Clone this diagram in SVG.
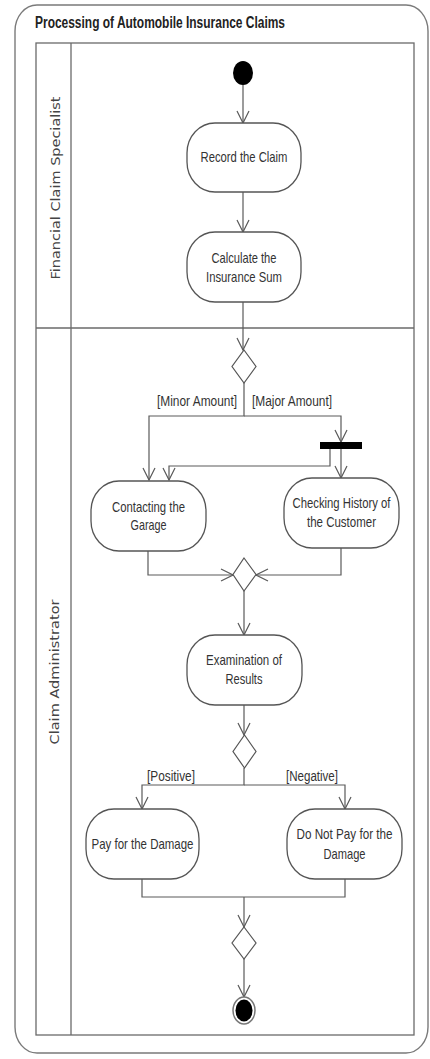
<svg xmlns="http://www.w3.org/2000/svg" width="430" height="1059" viewBox="0 0 430 1059">
<style>
.frame{fill:none;stroke:#7a7a7a;stroke-width:1.4}
.lane{fill:none;stroke:#6a6a6a;stroke-width:1.3}
.act{fill:#fff;stroke:#555;stroke-width:1.3}
.dec{fill:#fff;stroke:#555;stroke-width:1.2}
.con{fill:none;stroke:#5a5a5a;stroke-width:1.2}
.t{font-family:"Liberation Sans",Arial,sans-serif;font-size:15px;fill:#333;text-anchor:middle}
.g{font-family:"Liberation Sans",Arial,sans-serif;font-size:14px;fill:#333}
.ln{font-family:"DejaVu Sans",Verdana,sans-serif;font-size:13px;fill:#444;text-anchor:middle}
.title{font-family:"Liberation Sans",Arial,sans-serif;font-size:16px;font-weight:bold;fill:#222}
</style>
<defs>
<marker id="arr" markerUnits="userSpaceOnUse" markerWidth="14" markerHeight="14" viewBox="-13 -7 14 14" refX="0" refY="0" orient="auto">
<path d="M-12,-6 L0,0 L-12,6" fill="none" stroke="#5a5a5a" stroke-width="1.2"/>
</marker>
</defs>
<g id="frame">
<rect class="frame" x="15" y="5" width="413" height="1048" rx="22" ry="26"/>
<text class="title" x="35" y="28" textLength="250" lengthAdjust="spacingAndGlyphs">Processing of Automobile Insurance Claims</text>
</g>
<g id="lanes">
<rect class="lane" x="36" y="43" width="378" height="992"/>
<line class="lane" x1="71" y1="43" x2="71" y2="1035"/>
<line class="lane" x1="36" y1="328" x2="414" y2="328"/>
<text class="ln" transform="translate(60,188) rotate(-90)" textLength="183" lengthAdjust="spacingAndGlyphs">Financial Claim Specialist</text>
<text class="ln" transform="translate(59,672) rotate(-90)" textLength="145" lengthAdjust="spacingAndGlyphs">Claim Administrator</text>
</g>
<g id="connectors">
<path class="con" d="M243,85 V123" marker-end="url(#arr)"/>
<path class="con" d="M243,192 V232" marker-end="url(#arr)"/>
<path class="con" d="M243,302 V350" marker-end="url(#arr)"/>
<path class="con" d="M244,383 V416 H149 V480" marker-end="url(#arr)"/>
<path class="con" d="M244,416 H341 V442" marker-end="url(#arr)"/>
<path class="con" d="M330,449 V466 H169 V480" marker-end="url(#arr)"/>
<path class="con" d="M341,449 V478" marker-end="url(#arr)"/>
<path class="con" d="M148,551 V575 H233" marker-end="url(#arr)"/>
<path class="con" d="M341,548 V575 H256" marker-end="url(#arr)"/>
<path class="con" d="M244,591 V635" marker-end="url(#arr)"/>
<path class="con" d="M244,705 V735" marker-end="url(#arr)"/>
<path class="con" d="M244,768 V785 H142 V809" marker-end="url(#arr)"/>
<path class="con" d="M244,785 H345 V809" marker-end="url(#arr)"/>
<path class="con" d="M142,879 V897 H345 V879"/>
<path class="con" d="M244,897 V927" marker-end="url(#arr)"/>
<path class="con" d="M244,959 V997" marker-end="url(#arr)"/>
<text class="g" x="157" y="406" textLength="80" lengthAdjust="spacingAndGlyphs">[Minor Amount]</text>
<text class="g" x="252" y="406" textLength="80" lengthAdjust="spacingAndGlyphs">[Major Amount]</text>
<text class="g" x="147" y="781" textLength="48" lengthAdjust="spacingAndGlyphs">[Positive]</text>
<text class="g" x="286" y="781" textLength="52" lengthAdjust="spacingAndGlyphs">[Negative]</text>
</g>
<g id="start"><ellipse cx="243" cy="73" rx="10" ry="12" fill="#000"/></g>
<g id="record">
<rect class="act" x="187" y="123" width="114" height="69" rx="28" ry="30"/>
<text class="t" x="244" y="162" textLength="87" lengthAdjust="spacingAndGlyphs">Record the Claim</text>
</g>
<g id="calculate">
<rect class="act" x="187" y="232" width="114" height="70" rx="28" ry="30"/>
<text class="t" x="244" y="263" textLength="65" lengthAdjust="spacingAndGlyphs">Calculate the</text>
<text class="t" x="244" y="282" textLength="76" lengthAdjust="spacingAndGlyphs">Insurance Sum</text>
</g>
<g id="decision1"><path class="dec" d="M244,350 L256,366.5 L244,383 L232,366.5 Z"/></g>
<g id="fork"><rect x="320" y="442" width="42" height="7" fill="#000"/></g>
<g id="contacting">
<rect class="act" x="91" y="481" width="115" height="70" rx="28" ry="30"/>
<text class="t" x="148.5" y="512" textLength="73" lengthAdjust="spacingAndGlyphs">Contacting the</text>
<text class="t" x="148.5" y="530" textLength="36" lengthAdjust="spacingAndGlyphs">Garage</text>
</g>
<g id="checking">
<rect class="act" x="284" y="478" width="115" height="70" rx="28" ry="30"/>
<text class="t" x="341.5" y="508" textLength="98" lengthAdjust="spacingAndGlyphs">Checking History of</text>
<text class="t" x="341.5" y="527" textLength="69" lengthAdjust="spacingAndGlyphs">the Customer</text>
</g>
<g id="merge1"><path class="dec" d="M244,558 L256,574.5 L244,591 L233,574.5 Z"/></g>
<g id="examination">
<rect class="act" x="187" y="635" width="115" height="70" rx="28" ry="30"/>
<text class="t" x="244" y="665" textLength="76" lengthAdjust="spacingAndGlyphs">Examination of</text>
<text class="t" x="244" y="684" textLength="37" lengthAdjust="spacingAndGlyphs">Results</text>
</g>
<g id="decision2"><path class="dec" d="M244.5,735 L256,751.5 L244.5,768 L233,751.5 Z"/></g>
<g id="pay">
<rect class="act" x="86" y="809" width="113" height="70" rx="28" ry="30"/>
<text class="t" x="142.5" y="849" textLength="102" lengthAdjust="spacingAndGlyphs">Pay for the Damage</text>
</g>
<g id="donotpay">
<rect class="act" x="287" y="809" width="115" height="70" rx="28" ry="30"/>
<text class="t" x="344.5" y="839" textLength="96" lengthAdjust="spacingAndGlyphs">Do Not Pay for the</text>
<text class="t" x="344.5" y="859" textLength="42" lengthAdjust="spacingAndGlyphs">Damage</text>
</g>
<g id="merge2"><path class="dec" d="M244,927 L256,943 L244,959 L232,943 Z"/></g>
<g id="end">
<ellipse cx="244" cy="1010.5" rx="11" ry="13.5" fill="#fff" stroke="#777" stroke-width="1.5"/>
<ellipse cx="244" cy="1010.5" rx="8.5" ry="11" fill="#000"/>
</g>
</svg>
